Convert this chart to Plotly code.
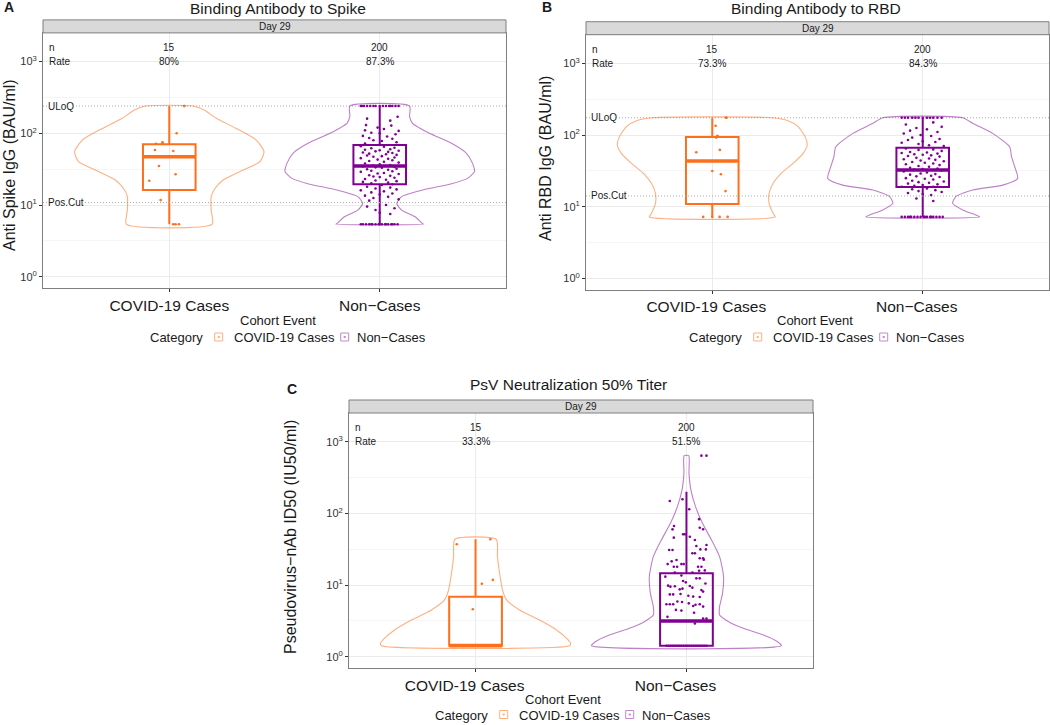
import math

import plotly.graph_objects as go

W, H = 1050, 725
FONT = "Liberation Sans, Arial, Helvetica, sans-serif"
CASE = "#FF6F1B"
NONCASE = "#810094"
CASE_VIOLIN = "rgba(255,111,27,0.55)"
NONCASE_VIOLIN = "rgba(129,0,148,0.5)"
CASE_KEY = "#FFB07F"
NONCASE_KEY = "#C08ACB"
GRID = "#EBEBEB"
GRID_MINOR = "#F5F5F5"
BORDER = "#7F7F7F"
REF_LINE = "#A8A8A8"
TEXT = "#1A1A1A"

X_RANGE = [-0.6, 1.6]
Y_RANGE = [-0.156, 3.40]
BOX_WIDTH = 0.25
STRIP_PX = 13
KEY_OFFSETS = [(71, 84), (197, 207)]  # legend key centre / label start, px from "Category"

categories = ["COVID-19 Cases", "Non\u2212Cases"]
y_ticks = [1, 10, 100, 1000]
y_tick_text = ["10<sup>0</sup>", "10<sup>1</sup>", "10<sup>2</sup>", "10<sup>3</sup>"]
y_minor_ticks = [3.162, 31.62, 316.2]

# ---------------- A: Binding Antibody to Spike ----------------
spike_n = ["15", "200"]
spike_rate = ["80%", "87.3%"]
spike_uloq = 240
spike_poscut = 10.8
spike_q1 = [16.2, 19.4]
spike_median = [47.2, 35.0]
spike_q3 = [70.3, 68.7]
spike_lower = [5.4, 5.4]
spike_upper = [240, 240]

spike_case_violin_y = [240, 211, 162, 117, 81, 55.5, 40.2, 30.8, 22.3, 17.1, 13.1, 8.5, 5.4]
spike_case_violin_w = [0.114, 0.166, 0.223, 0.318, 0.412, 0.450, 0.431, 0.351, 0.256, 0.218, 0.199, 0.199, 0.204]
spike_non_violin_y = [240, 171, 138, 100, 72.4, 52.6, 38.1, 29.2, 23.5, 20.0, 16.2, 13.1, 10.5, 8.5, 6.9, 5.5, 5.4]
spike_non_violin_w = [0.142, 0.142, 0.156, 0.237, 0.341, 0.412, 0.441, 0.450, 0.417, 0.346, 0.204, 0.104, 0.081,
                      0.104, 0.166, 0.204, 0.209]

spike_case_y = [240, 100, 71.6, 74, 58.5, 56.6, 35, 21.8, 26.8, 11.7, 5.4, 5.4, 5.4, 240, 74]
spike_case_jit = [0.071, 0.035, -0.063, -0.032, -0.068, 0.019, -0.049, -0.095, 0.030, -0.041, 0.019, 0.046, 0.030,
                  0.071, -0.032]

spike_non_y = [
    240, 240, 240, 240, 240, 240, 240, 240, 240, 240, 240, 240, 240, 240, 240,
    170, 160, 150, 130, 128, 120, 115, 110, 108, 102, 100, 97, 92, 90, 86, 84, 80, 78, 75, 72,
    66, 65, 63, 62, 60, 59, 58, 57, 56, 55, 54, 53, 52, 51, 50, 49, 48, 47, 46, 45,
    44, 43, 42, 41, 40, 39, 38, 37, 36, 35.5, 35, 34.5, 34, 33.5, 33, 32, 31.5, 31, 30, 29.5,
    29, 28, 27.5, 27, 26, 25.5, 25, 24.5, 24, 23, 22.5, 22, 21.5, 21, 20.5, 20, 19.5, 19,
    18, 17.5, 17, 16.5, 16, 15.5, 15, 14.5, 14, 13.5, 13, 12.5, 12, 11.5,
    10, 9.5, 9, 8.5, 7.8, 7.5,
    5.4, 5.4, 5.4, 5.4, 5.4, 5.4, 5.4, 5.4, 5.4, 5.4, 5.4, 5.4, 5.4, 5.4, 5.4, 5.4, 5.4,
]
spike_non_jit = [
    -0.09, -0.075, -0.06, -0.045, -0.03, -0.02, 0.0, 0.015, 0.03, 0.045, 0.06, 0.075, 0.09, -0.085, 0.05,
    0.085, -0.06, 0.05, -0.065, 0.055, -0.01, 0.02, -0.07, 0.09, -0.04, 0.0, 0.075, -0.08, 0.035, -0.05, 0.06,
    -0.03, 0.01, 0.08, -0.07,
    -0.09, 0.02, 0.07, -0.04, 0.05, -0.07, 0.0, 0.09, -0.02, 0.04, -0.08, 0.06, -0.05, 0.03, 0.08, -0.06,
    0.01, -0.03, 0.07, -0.09,
    0.04, -0.01, 0.06, -0.05, 0.02, 0.09, -0.07, 0.0, 0.05, -0.03, 0.03, -0.08, 0.07, -0.02, 0.01, 0.08,
    -0.06, 0.04, -0.04, 0.06,
    -0.09, 0.02, -0.01, 0.09, -0.05, 0.05, -0.03, 0.0, 0.07, -0.07, 0.03, -0.02, 0.08, -0.08, 0.04, -0.04,
    0.06, 0.01,
    -0.06, 0.05, -0.02, 0.08, -0.09, 0.02, -0.04, 0.06, 0.0, -0.07, 0.04, -0.03, 0.09, -0.05,
    0.03, -0.06, 0.07, -0.02, 0.0, 0.05,
    -0.08, -0.065, -0.05, -0.035, -0.02, -0.005, 0.01, 0.025, 0.04, 0.055, 0.07, 0.085, -0.09, 0.0, 0.03,
    -0.04, 0.06,
]

# ---------------- B: Binding Antibody to RBD ----------------
rbd_n = ["15", "200"]
rbd_rate = ["73.3%", "84.3%"]
rbd_uloq = 174
rbd_poscut = 14.1
rbd_q1 = [10.9, 18.8]
rbd_median = [43.4, 32.5]
rbd_q3 = [93.8, 66.5]
rbd_lower = [7.2, 7.2]
rbd_upper = [174, 174]

rbd_case_violin_y = [174, 158, 131, 95, 72.5, 55.5, 40.3, 29.2, 21.2, 15.3, 11.1, 8.07, 7.2]
rbd_case_violin_w = [0.285, 0.360, 0.408, 0.441, 0.451, 0.432, 0.384, 0.327, 0.289, 0.270, 0.270, 0.289, 0.299]
rbd_non_violin_y = [174, 145.5, 105.5, 68.7, 49.9, 36.1, 24.8, 20.0, 17.1, 13.8, 11.1, 9.0, 7.65, 7.2]
rbd_non_violin_w = [0.190, 0.237, 0.332, 0.413, 0.422, 0.437, 0.451, 0.380, 0.237, 0.157, 0.142, 0.190, 0.252,
                    0.270]

rbd_case_y = [174, 135, 97, 92, 57.4, 62, 31.5, 28.3, 16.5, 7.2, 7.2, 7.2, 7.2, 174, 97]
rbd_case_jit = [0.066, 0.016, 0.024, 0.019, -0.076, 0.036, 0.0, 0.041, 0.063, -0.043, 0.035, 0.073, 0.0, 0.066,
                0.024]

rbd_non_y = [
    174, 174, 174, 174, 174, 174, 174, 174, 174, 174, 174, 174,
    150, 140, 130, 125, 120, 115, 110, 105, 100, 97, 92, 88, 85, 82, 80, 78, 75, 72, 70,
    65, 63, 62, 60, 58, 57, 56, 55, 54, 53, 52, 51, 50, 48, 47, 46, 45, 44, 43, 42,
    41, 40, 39, 38, 37, 36, 35, 34, 33.5, 33, 32, 31, 30, 29, 28.5, 28, 27, 26.5, 26, 25,
    24.5, 24, 23, 22.5, 22, 21.5, 21, 20.5, 20, 19.5, 19, 19,
    18, 17.5, 17, 16.5, 16, 15.5, 15, 14.5,
    13, 12,
    7.2, 7.2, 7.2, 7.2, 7.2, 7.2, 7.2, 7.2, 7.2, 7.2, 7.2, 7.2, 7.2, 7.2, 7.2, 7.2, 7.2,
]
rbd_non_jit = [
    -0.1, -0.085, -0.07, -0.05, -0.035, -0.02, 0.0, 0.02, 0.035, 0.05, 0.07, 0.09,
    0.05, -0.08, 0.09, -0.03, 0.02, -0.06, 0.07, -0.09, -0.01, 0.04, -0.05, 0.08, -0.07, 0.0, 0.06, -0.1,
    -0.02, 0.03, 0.1,
    -0.08, 0.05, -0.02, 0.09, -0.06, 0.02, -0.1, 0.07, -0.04, 0.0, 0.04, -0.07, 0.08, -0.03, 0.03, -0.09,
    0.06, -0.01, 0.1, -0.05,
    0.01, 0.05, -0.08, 0.08, -0.02, 0.03, -0.06, 0.07, 0.0, -0.04, 0.09, -0.09, 0.02, -0.01, 0.06, -0.06,
    0.04, -0.03, 0.08, -0.08,
    0.01, 0.05, -0.05, 0.1, -0.02, 0.03, -0.07, 0.07, 0.0, -0.04, 0.05, -0.1,
    0.02, -0.05, 0.06, -0.02, 0.09, -0.07, 0.0, 0.04,
    -0.03, 0.05,
    -0.1, -0.085, -0.07, -0.055, -0.04, -0.025, -0.01, 0.005, 0.02, 0.035, 0.05, 0.065, 0.08, 0.095, -0.06,
    0.01, 0.04,
]

# ---------------- C: PsV Neutralization 50% Titer ----------------
psv_n = ["15", "200"]
psv_rate = ["33.3%", "51.5%"]
psv_q1 = [1.42, 1.42]
psv_median = [1.42, 3.15]
psv_q3 = [6.88, 14.6]
psv_lower = [1.42, 1.42]
psv_upper = [43.5, 200]

psv_case_violin_y = [43.5, 24.9, 14.6, 8.5, 6.2, 4.49, 3.25, 2.36, 1.80, 1.53, 1.42]
psv_case_violin_w = [0.098, 0.104, 0.114, 0.128, 0.147, 0.209, 0.304, 0.384, 0.432, 0.451, 0.446]
psv_non_violin_y = [638, 361, 212, 124, 72.6, 42.5, 24.9, 13.1, 7.66, 4.99, 3.82, 3.08, 2.49, 2.01, 1.62, 1.42]
psv_non_violin_w = [0.011, 0.012, 0.021, 0.043, 0.076, 0.119, 0.157, 0.176, 0.171, 0.157, 0.157, 0.200, 0.270,
                    0.365, 0.432, 0.450]

psv_case_y = [37, 43.5, 11.8, 10.4, 4.6, 1.42, 1.42, 1.42, 1.42, 1.42, 1.42, 1.42, 1.42, 1.42, 1.42]
psv_case_jit = [-0.089, 0.070, 0.082, 0.030, -0.013, -0.09, -0.07, -0.05, -0.03, -0.01, 0.01, 0.03, 0.05, 0.07,
                0.09]

psv_non_y = [
    638, 638,
    149, 157, 114, 83, 66.6, 59.8, 63, 60,
    51, 51, 45.8, 47.2, 42.5, 35, 30.8, 30.8, 31.4, 31.4,
    27.7, 27.7, 36.1, 22.3, 21.4, 23.6, 23.6, 19.6, 18, 18,
    19.6, 19.6, 22.6, 18, 18, 15.8, 14.9, 14.9, 13.6, 16,
    13.1, 9.8, 9.5, 9.6, 11.4, 10.9, 12.4, 12.4, 9.7, 9.2,
    10.5, 8.7, 8.9, 8.5, 8.1, 7.4, 7.4, 7.5, 7.1, 6.9,
    6.8, 5.4, 5.4, 5.4, 5.8, 5.9, 5.55, 5.1, 5.3, 5.4,
    5.0, 4.5, 4.4, 3.6, 4.1, 3.4, 3.4, 2.9,
    1.42, 1.42, 1.42, 1.42, 1.42, 1.42, 1.42, 1.42, 1.42, 1.42,
    1.42, 1.42, 1.42, 1.42, 1.42, 1.42, 1.42, 1.42, 1.42, 1.42,
]
psv_non_jit = [
    0.071, 0.095,
    -0.079, -0.019, 0.013, 0.06, -0.059, -0.066, 0.063, 0.079,
    -0.016, -0.008, -0.06, 0.016, 0.04, 0.047, -0.082, -0.066, 0.066, 0.092,
    0.028, 0.04, 0.095, -0.047, -0.07, 0.063, 0.079, -0.089, -0.06, -0.044,
    -0.024, -0.013, 0.082, 0.055, 0.071, 0.06, 0.028, -0.055, -0.024, 0.087,
    -0.1, -0.087, -0.076, -0.055, -0.016, -0.003, 0.047, 0.063, 0.016, 0.028,
    0.09, -0.032, -0.019, 0.071, 0.079, -0.079, -0.063, -0.028, 0.009, 0.032,
    0.063, -0.095, -0.079, -0.063, -0.021, -0.043, 0.011, 0.032, 0.043, 0.063,
    0.079, -0.05, -0.024, -0.09, 0.036, 0.079, 0.095, 0.04,
    -0.095, -0.085, -0.075, -0.065, -0.055, -0.045, -0.035, -0.025, -0.015, -0.005,
    0.005, 0.015, 0.025, 0.035, 0.045, 0.055, 0.065, 0.075, 0.085, 0.095,
]

PANELS = [
    dict(
        key="", letter="A", title="Binding Antibody to Spike", ytitle="Anti Spike IgG (BAU/ml)",
        n=spike_n, rate=spike_rate, uloq=spike_uloq, poscut=spike_poscut,
        q1=spike_q1, median=spike_median, q3=spike_q3, lower=spike_lower, upper=spike_upper,
        violins=[(spike_case_violin_y, spike_case_violin_w), (spike_non_violin_y, spike_non_violin_w)],
        points=[(spike_case_y, spike_case_jit), (spike_non_y, spike_non_jit)],
        box_px=(43, 506, 32.9, 287.9), letter_px=(2, 7), title_px=(277.6, 8.5), ytitle_px=(9, 165),
        cohort_px=(277.5, 320), legend_px=(147.7, 338), label_shift=0,
    ),
    dict(
        key="2", letter="B", title="Binding Antibody to RBD", ytitle="Anti RBD IgG (BAU/ml)",
        n=rbd_n, rate=rbd_rate, uloq=rbd_uloq, poscut=rbd_poscut,
        q1=rbd_q1, median=rbd_median, q3=rbd_q3, lower=rbd_lower, upper=rbd_upper,
        violins=[(rbd_case_violin_y, rbd_case_violin_w), (rbd_non_violin_y, rbd_non_violin_w)],
        points=[(rbd_case_y, rbd_case_jit), (rbd_non_y, rbd_non_jit)],
        box_px=(586, 1049, 34.7, 289.5), letter_px=(540, 7), title_px=(816, 8.5), ytitle_px=(546, 159),
        cohort_px=(815, 320), legend_px=(686.7, 338), label_shift=-6,
    ),
    dict(
        key="3", letter="C", title="PsV Neutralization 50% Titer", ytitle="Pseudovirus\u2212nAb ID50 (IU50/ml)",
        n=psv_n, rate=psv_rate, uloq=None, poscut=None,
        q1=psv_q1, median=psv_median, q3=psv_q3, lower=psv_lower, upper=psv_upper,
        violins=[(psv_case_violin_y, psv_case_violin_w), (psv_non_violin_y, psv_non_violin_w)],
        points=[(psv_case_y, psv_case_jit), (psv_non_y, psv_non_jit)],
        box_px=(349, 813, 413.0, 667.9), letter_px=(285, 389), title_px=(568, 384.5), ytitle_px=(290, 537),
        cohort_px=(563, 699), legend_px=(432.7, 715.5), label_shift=-11,
    ),
]

COLORS = [CASE, NONCASE]
VIOLIN_COLORS = [CASE_VIOLIN, NONCASE_VIOLIN]
KEY_COLORS = [CASE_KEY, NONCASE_KEY]


def pxx(v):
    return v / W


def pxy(v):
    return 1 - v / H


def paper_text(text, x, y, size, **kw):
    return dict(text=text, x=pxx(x), y=pxy(y), xref="paper", yref="paper", showarrow=False,
                xanchor=kw.pop("xanchor", "center"), yanchor="middle",
                font=dict(family=FONT, size=size, color=TEXT), **kw)


fig = go.Figure()
annotations = []
shapes = []
layout = {}

for p in PANELS:
    xa, ya = "x" + p["key"], "y" + p["key"]
    x0, x1, yt, yb = p["box_px"]
    axes = dict(xaxis=xa, yaxis=ya, showlegend=False, hoverinfo="skip")

    for ref in (p["uloq"], p["poscut"]):
        if ref is not None:
            fig.add_trace(go.Scatter(x=X_RANGE, y=[ref, ref], mode="lines",
                                     line=dict(color=REF_LINE, width=1, dash="1px,2px"), **axes))

    for i in range(2):
        vy, vw = p["violins"][i]
        vx = [i + w for w in vw] + [i - w for w in reversed(vw)] + [i + vw[0]]
        fig.add_trace(go.Scatter(x=vx, y=vy + vy[::-1] + [vy[0]], mode="lines",
                                 line=dict(color=VIOLIN_COLORS[i], width=1.1, shape="spline", smoothing=0.6),
                                 **axes))
        fig.add_trace(go.Box(x=[i], q1=[p["q1"][i]], median=[p["median"][i]], q3=[p["q3"][i]],
                             lowerfence=[p["lower"][i]], upperfence=[p["upper"][i]], width=BOX_WIDTH,
                             whiskerwidth=0, boxpoints=False, fillcolor="rgba(0,0,0,0)",
                             line=dict(color=COLORS[i], width=2), **axes))
        fig.add_trace(go.Scatter(x=[i - BOX_WIDTH / 2, i + BOX_WIDTH / 2], y=[p["median"][i]] * 2,
                                 mode="lines", line=dict(color=COLORS[i], width=3.5), **axes))
        py, pj = p["points"][i]
        assert len(py) == len(pj)
        fig.add_trace(go.Scatter(x=[i + j for j in pj], y=py, mode="markers",
                                 marker=dict(color=COLORS[i], size=2.6, line_width=0), **axes))

    layout["xaxis" + p["key"]] = dict(
        domain=[pxx(x0), pxx(x1)], anchor=ya, range=X_RANGE, tickvals=[0, 1], ticktext=categories,
        showgrid=True, gridcolor=GRID, gridwidth=1, zeroline=False, showline=True, mirror=True,
        linecolor=BORDER, linewidth=1, ticks="outside", ticklen=3, tickcolor="#333333",
        tickfont=dict(family=FONT, size=15.5, color=TEXT), ticklabelshift=p["label_shift"],
    )
    layout["yaxis" + p["key"]] = dict(
        domain=[pxy(yb), pxy(yt)], anchor=xa, type="log", range=Y_RANGE, tickvals=y_ticks,
        ticktext=y_tick_text, showgrid=True, gridcolor=GRID, gridwidth=1, zeroline=False,
        showline=True, mirror=True, linecolor=BORDER, linewidth=1, ticks="outside", ticklen=3,
        tickcolor="#333333", tickfont=dict(family=FONT, size=11, color="#333333"),
        minor=dict(tickmode="array", tickvals=y_minor_ticks, showgrid=True, gridcolor=GRID_MINOR,
                   ticks=""),
    )

    # facet strip
    shapes.append(dict(type="rect", xref="paper", yref="paper", x0=pxx(x0), x1=pxx(x1),
                       y0=pxy(yt), y1=pxy(yt - STRIP_PX), fillcolor="#D9D9D9",
                       line=dict(color=BORDER, width=1), layer="above"))
    annotations.append(paper_text("Day 29", (x0 + x1) / 2, yt - STRIP_PX / 2, 10))

    annotations.append(paper_text("<b>" + p["letter"] + "</b>", *p["letter_px"], 14, xanchor="left"))
    annotations.append(paper_text(p["title"], *p["title_px"], 15.5))
    annotations.append(paper_text(p["ytitle"], *p["ytitle_px"], 16, textangle=-90))
    annotations.append(paper_text("Cohort Event", *p["cohort_px"], 13))

    # legend row: "Category" then one key per cohort
    lx, ly = p["legend_px"]
    annotations.append(paper_text("Category", lx, ly, 13, xanchor="left"))
    for i in range(2):
        kx, tx = KEY_OFFSETS[i]
        cx = lx + kx
        shapes.append(dict(type="rect", xref="paper", yref="paper", x0=pxx(cx - 4), x1=pxx(cx + 4),
                           y0=pxy(ly + 3), y1=pxy(ly - 5), fillcolor="white",
                           line=dict(color=KEY_COLORS[i], width=1)))
        shapes.append(dict(type="rect", xref="paper", yref="paper", x0=pxx(cx - 1), x1=pxx(cx + 1),
                           y0=pxy(ly), y1=pxy(ly - 2), fillcolor=KEY_COLORS[i], line_width=0))
        annotations.append(paper_text(categories[i], lx + tx, ly, 13, xanchor="left"))

    # n / Rate rows (log axis: annotation y is in log10 units)
    for label, ylog in (("n", 3.2), ("Rate", 3.0)):
        annotations.append(dict(text=label, x=0.009, xref=xa + " domain", y=ylog, yref=ya,
                                xanchor="left", yanchor="middle", showarrow=False,
                                font=dict(family=FONT, size=10, color=TEXT)))
    for i in range(2):
        for val, ylog in ((p["n"][i], 3.2), (p["rate"][i], 3.0)):
            annotations.append(dict(text=val, x=i, xref=xa, y=ylog, yref=ya, xanchor="center",
                                    yanchor="middle", showarrow=False,
                                    font=dict(family=FONT, size=10, color=TEXT)))
    for label, ref in (("ULoQ", p["uloq"]), ("Pos.Cut", p["poscut"])):
        if ref is not None:
            annotations.append(dict(text=label, x=0.009, xref=xa + " domain", y=math.log10(ref), yref=ya,
                                    xanchor="left", yanchor="middle", showarrow=False, bgcolor="white",
                                    borderpad=0, font=dict(family=FONT, size=10, color=TEXT)))

fig.update_layout(
    width=W, height=H, margin=dict(l=0, r=0, t=0, b=0), autosize=False, showlegend=False,
    paper_bgcolor="white", plot_bgcolor="white", font=dict(family=FONT, color=TEXT),
    annotations=annotations, shapes=shapes, **layout,
)

fig.write_html(
    "out.html",
    config={"displayModeBar": False},
    post_script="document.body.style.margin='0';document.body.style.overflow='hidden';",
)
